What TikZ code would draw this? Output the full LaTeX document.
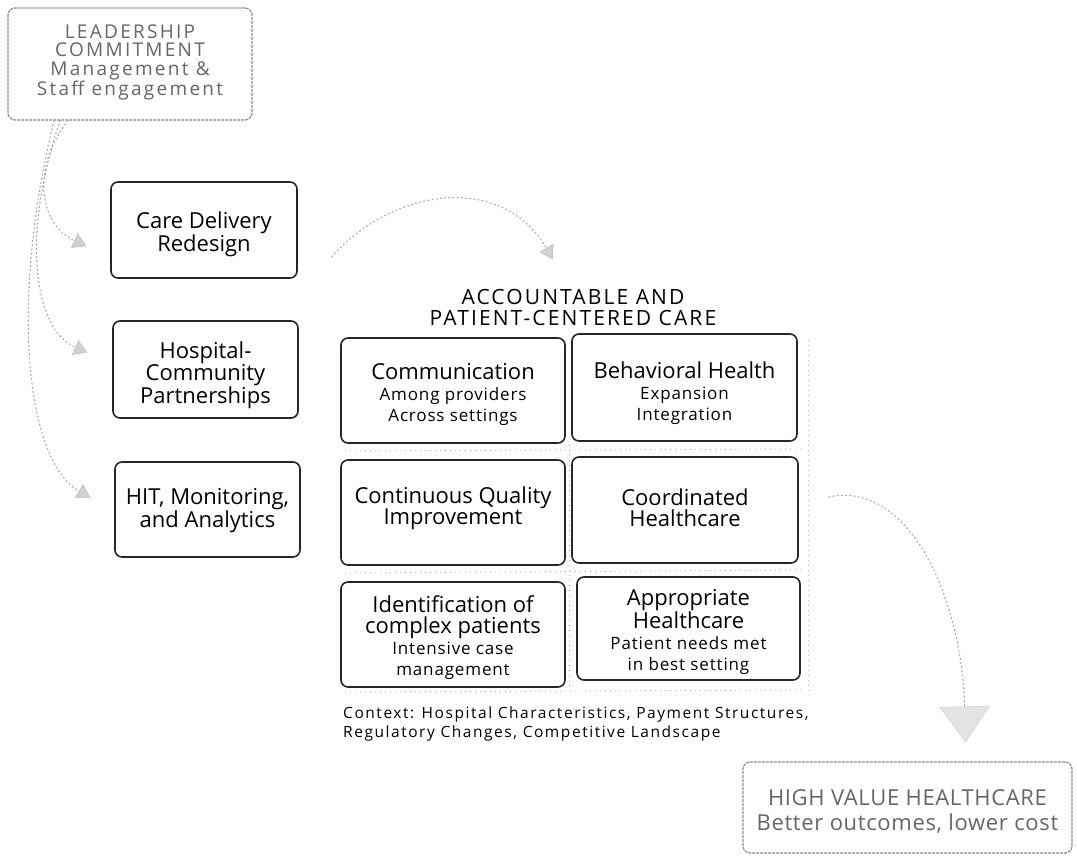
\documentclass[tikz,border=0pt]{standalone}
\usepackage{fontspec}
\setmainfont{Open Sans}
\newfontfamily\spreadA[LetterSpace=12]{Open Sans}
\newfontfamily\spreadB[LetterSpace=10]{Open Sans}
\newfontfamily\spreadC[LetterSpace=5]{Open Sans}
\newfontfamily\spreadD[LetterSpace=3]{Open Sans}
\usetikzlibrary{arrows.meta}
\newcommand{\mainsz}{\fontsize{22}{21}\selectfont}
\newcommand{\subsz}{\spreadC\fontsize{17}{21}\selectfont}
% move centred content down or up inside its node by padding the other side
\newcommand{\lowerby}[2]{\raisebox{0pt}[\dimexpr\height+#1*2\relax][\depth]{#2}}
\newcommand{\raiseby}[2]{\raisebox{0pt}[\height][\dimexpr\depth+#1*2\relax]{#2}}
% a grid cell: heading lines, then detail lines
\newcommand{\cell}[2]{\parbox{218pt}{\centering\mainsz #1\par\subsz #2\par}}
% centred lines of a given width
\newcommand{\lines}[2]{\parbox{#1}{\centering #2\par}}
\begin{document}
\begin{tikzpicture}[x=1pt,y=-1pt,
  box/.style={draw=black!85,line width=1.6pt,rounded corners=7pt,align=center,inner sep=0pt},
  faintbox/.style={draw=black!45,line width=1.2pt,dash pattern=on 3pt off 1pt,rounded corners=7pt,align=center,inner sep=0pt,text=black!60},
  flow/.style={draw=black!35,line width=1.1pt,dash pattern=on 1.2pt off 3pt,line cap=round},
  headS/.style={-{Triangle[width=16pt,length=13pt,fill=black!18,color=black!26,line width=0.5pt]}},
  headL/.style={-{Triangle[width=50pt,length=36pt,fill=black!11,color=black!20,line width=0.5pt]}},
  seam/.style={draw=black!30,line width=0.9pt,dash pattern=on 1pt off 4pt},
  big/.style={font=\fontsize{22}{21.5}\selectfont}
]
\useasboundingbox (0,0) rectangle (1077,861);
\fill[white] (0,0) rectangle (1077,861);

% outer drivers
\node[faintbox,minimum width=244pt,minimum height=112pt,font=\spreadA\fontsize{19}{18.5}\selectfont] (lead) at (130,64)
  {\raiseby{2pt}{\lines{238pt}{LEADERSHIP\\COMMITMENT\\Management \&\\Staff engagement}}};
\node[box,big,minimum width=186pt,minimum height=96pt] (care) at (204,230) {\lowerby{4pt}{\lines{178pt}{Care Delivery\\Redesign}}};
\node[box,big,minimum width=185pt,minimum height=97pt] (hosp) at (205.5,369.5) {\lowerby{6pt}{\lines{178pt}{Hospital-\\Community\\Partnerships}}};
\node[box,big,minimum width=185pt,minimum height=95pt] (hit) at (207.5,509.5) {\lowerby{1pt}{\lines{178pt}{HIT, Monitoring,\\and Analytics}}};

% central block
\node[font=\spreadB\fontsize{21}{21}\selectfont,align=center] (title) at (573,307) {ACCOUNTABLE AND\\PATIENT-CENTERED CARE};

% seams around the grid
\draw[seam] (345,451) -- (805,449);
\draw[seam] (345,573) -- (805,570);
\draw[seam] (345,692) -- (805,690);
\draw[seam] (808,340) -- (808,692);
\draw[seam] (569,445) -- (569,690);

\node[box,minimum width=224pt,minimum height=105pt] (comm) at (453,390.5)
  {\lowerby{4pt}{\cell{Communication}{Among providers\\Across settings}}};
\node[box,minimum width=225pt,minimum height=107pt] (behav) at (684.5,387.5)
  {\lowerby{6pt}{\cell{Behavioral Health}{Expansion\\Integration}}};
\node[box,minimum width=224pt,minimum height=105pt] (cqi) at (453,512.5)
  {\raiseby{4pt}{\parbox{218pt}{\centering\mainsz Continuous Quality\\Improvement}}};
\node[box,minimum width=226pt,minimum height=106pt] (coord) at (685,510)
  {\raiseby{2pt}{\parbox{218pt}{\centering\mainsz Coordinated\\Healthcare}}};
\node[box,minimum width=224pt,minimum height=105pt] (ident) at (453,634.5)
  {\lowerby{3pt}{\cell{Identification of\\complex patients}{Intensive case\\management}}};
\node[box,minimum width=223pt,minimum height=103pt] (appr) at (688.5,628.5)
  {\lowerby{3pt}{\cell{Appropriate\\Healthcare}{Patient needs met\\in best setting}}};

\node[anchor=north west,align=left,font=\spreadB\fontsize{15.5}{19}\selectfont,inner sep=0pt] (ctx) at (343,707)
  {Context: Hospital Characteristics, Payment Structures,\\Regulatory Changes, Competitive Landscape};

% outcome
\node[faintbox,minimum width=329pt,minimum height=91pt,font=\spreadD\fontsize{22}{25}\selectfont] (hv) at (907.5,807.5)
  {\lowerby{4pt}{\lines{323pt}{HIGH VALUE HEALTHCARE\\Better outcomes, lower cost}}};

% connectors
\draw[flow,headS] ([xshift=-62pt]lead.south) .. controls (30,170) and (40,225) .. ([xshift=-24pt,yshift=-16pt]care.west);
\draw[flow,headS] ([xshift=-70pt]lead.south) .. controls (20,240) and (35,330) .. ([xshift=-25pt,yshift=17pt]hosp.west);
\draw[flow,headS] ([xshift=-76pt]lead.south) .. controls (10,300) and (25,460) .. ([xshift=-24pt,yshift=12pt]hit.west);
\draw[flow,headS] ([xshift=34pt,yshift=-27pt]care.east) .. controls (390,190) and (500,170) .. ([xshift=-20pt,yshift=26pt]title.north);
\draw[flow,headL] ([xshift=30pt,yshift=13pt]coord.east) .. controls (910,480) and (962,600) .. ([xshift=58pt,yshift=19pt]hv.north);
\end{tikzpicture}
\end{document}
